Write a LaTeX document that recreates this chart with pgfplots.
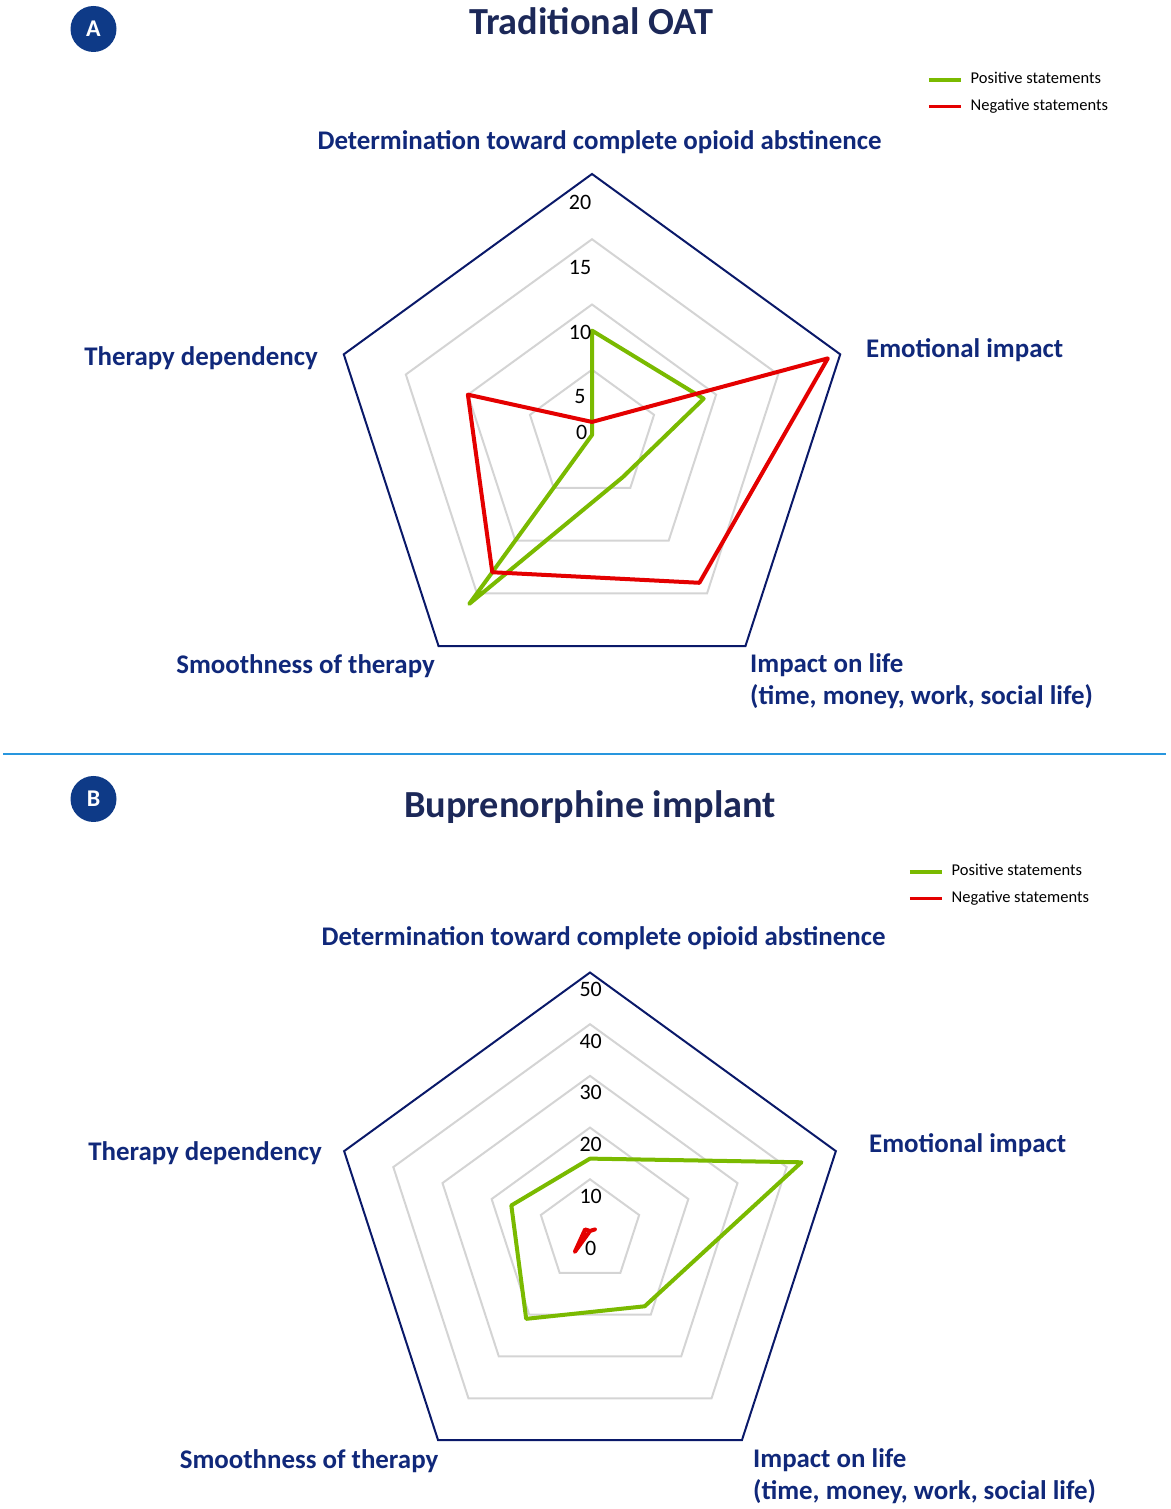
\documentclass[border=0pt]{standalone}
\usepackage{fontspec}
\setmainfont{Carlito}
\usepackage{pgfplots}
\pgfplotsset{compat=1.18}
\usepgfplotslibrary{polar}

\definecolor{lblnavy}{RGB}{16,40,122}
\definecolor{titlenavy}{RGB}{28,40,88}
\definecolor{circblue}{RGB}{14,58,135}
\definecolor{outernavy}{RGB}{10,25,105}
\definecolor{gridgray}{RGB}{212,212,212}
\definecolor{posgreen}{RGB}{122,186,0}
\definecolor{negred}{RGB}{228,0,0}
\definecolor{seplblue}{RGB}{40,150,222}

\newcommand\lblfont{\fontsize{26.9}{30}\selectfont\bfseries\color{lblnavy}}
\newcommand\titlefont{\fontsize{38.3}{42}\selectfont\bfseries\color{titlenavy}}
\newcommand\tickfont{\fontsize{22}{25}\selectfont\color{black}}
\newcommand\legfont{\fontsize{16.5}{19}\selectfont\color{black}}

\pgfplotsset{
  radar/.style={
    hide axis, clip=false, scale only axis,
    xmin=0, xmax=360, ymin=0,
    xtick=\empty, ytick=\empty, grid=none,
    legend cell align=left,
    legend image code/.code={\draw[##1, line width=3.5pt, line cap=butt] (0pt,0pt) -- (32pt,0pt);},
    legend style={draw=none, fill=none, inner sep=0pt, row sep=12pt, column sep=8pt,
      nodes={inner sep=0pt, text height=11pt, text depth=3.5pt, font=\legfont}},
  },
  ring/.style={color=gridgray, line width=2pt, forget plot, mark=none},
  outer/.style={color=outernavy, line width=2pt, forget plot, mark=none},
  pos/.style={color=posgreen, line width=4pt, line join=round, mark=none},
  neg/.style={color=negred, line width=4pt, line join=round, mark=none},
}

\begin{document}
\begin{tikzpicture}

% ---------- Panel A ----------
\fill[circblue] (93.5pt,1480pt) circle (23pt);
\node[font=\fontsize{24}{26}\selectfont\bfseries, text=white] at (93.5pt,1480pt) {A};
\node[font=\titlefont, anchor=base] at (591pt,1474pt) {Traditional OAT};

\begin{polaraxis}[radar, at={(592pt,1074pt)}, anchor=center,
  width=522pt, height=522pt, ymax=20,
  legend style={at={(axis description cs:1.1418,1.155)}, anchor=west}]
\addplot[ring] coordinates {(90,5) (18,5) (306,5) (234,5) (162,5)} --cycle;
\addplot[ring] coordinates {(90,10) (18,10) (306,10) (234,10) (162,10)} --cycle;
\addplot[ring] coordinates {(90,15) (18,15) (306,15) (234,15) (162,15)} --cycle;
\addplot[outer] coordinates {(90,20) (18,20) (306,20) (234,20) (162,20)} --cycle;
% Positive statements: Determination, Emotional, Impact on life, Smoothness, Therapy dependency
\addplot[pos] coordinates {(90,8) (18,9) (306,4) (234,16) (162,0)} --cycle;
\addlegendentry{Positive statements}
\addplot[neg] coordinates {(90,1) (18,19) (306,14) (234,13) (162,10)} --cycle;
\addlegendentry{Negative statements}
\node[font=\tickfont] at (axis cs:90,20) [xshift=-12pt, yshift=-28.4pt] {20};
\node[font=\tickfont] at (axis cs:90,15) [xshift=-12pt, yshift=-28pt] {15};
\node[font=\tickfont] at (axis cs:90,10) [xshift=-12pt, yshift=-28.4pt] {10};
\node[font=\tickfont] at (axis cs:90,5) [xshift=-12pt, yshift=-26.7pt] {5};
\node[font=\tickfont] at (axis cs:90,0) [xshift=-10.3pt, yshift=2.3pt] {0};
\end{polaraxis}

\node[font=\lblfont, anchor=base] at (599.5pt,1359.5pt) {Determination toward complete opioid abstinence};
\node[font=\lblfont, anchor=base west, inner sep=0pt] at (866pt,1151.5pt) {Emotional impact};
\node[font=\lblfont, anchor=base east, inner sep=0pt] at (318pt,1143.5pt) {Therapy dependency};
\node[font=\lblfont, anchor=base] at (305.5pt,835.5pt) {Smoothness of therapy};
\node[font=\lblfont, anchor=base west, inner sep=0pt] at (750pt,836.5pt) {Impact on life};
\node[font=\lblfont, anchor=base west, inner sep=0pt] at (750pt,804pt) {(time, money, work, social life)};

% separator
\draw[seplblue, line width=2pt] (3pt,755pt) -- (1166pt,755pt);

% ---------- Panel B ----------
\fill[circblue] (93.5pt,710pt) circle (23pt);
\node[font=\fontsize{24}{26}\selectfont\bfseries, text=white] at (93.5pt,710pt) {B};
\node[font=\titlefont, anchor=base] at (590pt,691pt) {Buprenorphine implant};

\begin{polaraxis}[radar, at={(590pt,278pt)}, anchor=center,
  width=517pt, height=517pt, ymax=50,
  legend style={at={(axis description cs:1.1151,1.1692)}, anchor=west}]
\addplot[ring] coordinates {(90,10) (18,10) (306,10) (234,10) (162,10)} --cycle;
\addplot[ring] coordinates {(90,20) (18,20) (306,20) (234,20) (162,20)} --cycle;
\addplot[ring] coordinates {(90,30) (18,30) (306,30) (234,30) (162,30)} --cycle;
\addplot[ring] coordinates {(90,40) (18,40) (306,40) (234,40) (162,40)} --cycle;
\addplot[outer] coordinates {(90,50) (18,50) (306,50) (234,50) (162,50)} --cycle;
\addplot[pos] coordinates {(90,14) (18,43) (306,18) (234,21) (162,16)} --cycle;
\addlegendentry{Positive statements}
\addplot[neg] coordinates {(90,0) (18,1) (306,0) (234,5) (162,1)} --cycle;
\addlegendentry{Negative statements}
\node[font=\tickfont] at (axis cs:90,50) [xshift=0.7pt, yshift=-17pt] {50};
\node[font=\tickfont] at (axis cs:90,40) [xshift=0.7pt, yshift=-17pt] {40};
\node[font=\tickfont] at (axis cs:90,30) [xshift=0.7pt, yshift=-17pt] {30};
\node[font=\tickfont] at (axis cs:90,20) [xshift=0.7pt, yshift=-17pt] {20};
\node[font=\tickfont] at (axis cs:90,10) [xshift=0.7pt, yshift=-17pt] {10};
\node[font=\tickfont] at (axis cs:90,0) [xshift=0.7pt, yshift=-17pt] {0};
\end{polaraxis}

\node[font=\lblfont, anchor=base] at (603.5pt,563.5pt) {Determination toward complete opioid abstinence};
\node[font=\lblfont, anchor=base west, inner sep=0pt] at (869pt,356.5pt) {Emotional impact};
\node[font=\lblfont, anchor=base east, inner sep=0pt] at (322pt,348.5pt) {Therapy dependency};
\node[font=\lblfont, anchor=base] at (309pt,40.5pt) {Smoothness of therapy};
\node[font=\lblfont, anchor=base west, inner sep=0pt] at (753pt,41pt) {Impact on life};
\node[font=\lblfont, anchor=base west, inner sep=0pt] at (753pt,9.5pt) {(time, money, work, social life)};

\pgfresetboundingbox
\path[use as bounding box] (0pt,0pt) rectangle (1170pt,1509pt);
\end{tikzpicture}
\end{document}
